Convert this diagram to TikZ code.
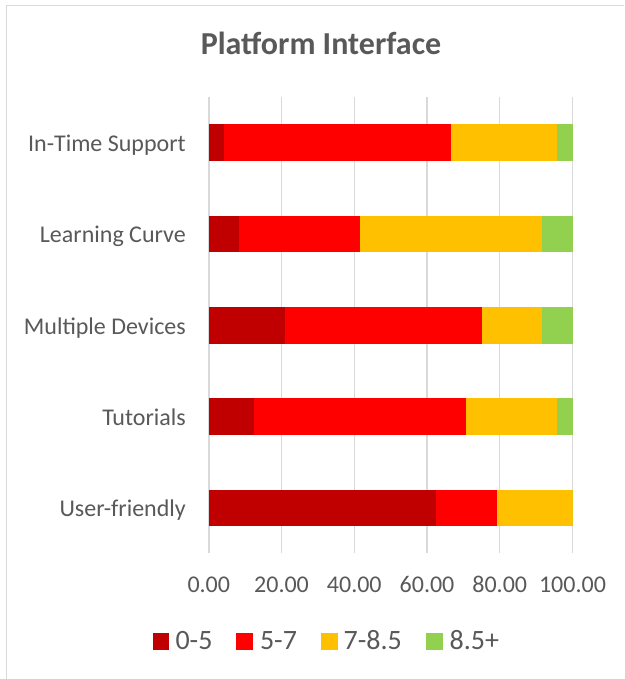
\documentclass[tikz,border=0pt]{standalone}
\usepackage{fontspec}
\setmainfont{Carlito}
\definecolor{txtgray}{HTML}{595959}
\definecolor{gridgray}{HTML}{D9D9D9}
\definecolor{cA}{HTML}{C00000}
\definecolor{cB}{HTML}{FF0000}
\definecolor{cC}{HTML}{FFC000}
\definecolor{cD}{HTML}{92D050}
\begin{document}
\begin{tikzpicture}[x=1pt,y=-1pt,
  titletext/.style={text=txtgray,inner sep=0pt,font=\fontsize{32}{36}\selectfont\bfseries},
  cattext/.style={text=txtgray,inner sep=0pt,anchor=base east,font=\fontsize{24}{28}\selectfont},
  ticktext/.style={text=txtgray,inner sep=0pt,anchor=base,font=\fontsize{24}{28}\selectfont},
  legtext/.style={text=txtgray,inner sep=0pt,anchor=base west,font=\fontsize{28}{32}\selectfont},
  gridline/.style={draw=gridgray,line width=1.4pt},
  frameline/.style={draw=gridgray,line width=1.5pt}]
\useasboundingbox (0,0) rectangle (624,679);
\fill[white] (0,0) rectangle (624,679);
\begin{scope}
\clip (0,0) rectangle (624,679);
\draw[frameline] (6.5,5.5) rectangle (640,700);
\end{scope}
% scale helpers
\def\xz{208.8}
\def\xs{3.637}
% gridlines
\foreach \v/\n in {0/g0,20/g1,40/g2,60/g3,80/g4,100/g5}{
  \coordinate (\n t) at ({\xz+\v*\xs},97.3);
  \coordinate (\n b) at ({\xz+\v*\xs},553.3);
  \draw[gridline] (\n t) -- (\n b);
}
% bars: name / center y / cum1 / cum2 / cum3
\foreach \lab/\yc/\a/\b/\c [count=\i] in {
  In-Time Support/142.8/4.1667/66.6667/95.8333,
  Learning Curve/234.1/8.3333/41.6667/91.6667,
  Multiple Devices/325.4/20.8333/75/91.6667,
  Tutorials/416.7/12.5/70.8333/95.8333,
  User-friendly/508/62.5/79.1667/100}{
  \fill[cA] ({\xz+0.6},\yc-18.3) rectangle ({\xz+\a*\xs},\yc+18.3);
  \fill[cB] ({\xz+\a*\xs},\yc-18.3) rectangle ({\xz+\b*\xs},\yc+18.3);
  \fill[cC] ({\xz+\b*\xs},\yc-18.3) rectangle ({\xz+\c*\xs},\yc+18.3);
  \fill[cD] ({\xz+\c*\xs},\yc-18.3) rectangle ({\xz+100*\xs},\yc+18.3);
  \node[cattext] (cat\i) at (186,\yc+8.6) {\lab};
}
% tick labels
\node[ticktext] (t0) at (g0b |- 0,592.3) {0.00};
\node[ticktext] (t1) at (g1b |- 0,592.3) {20.00};
\node[ticktext] (t2) at (g2b |- 0,592.3) {40.00};
\node[ticktext] (t3) at (g3b |- 0,592.3) {60.00};
\node[ticktext] (t4) at (g4b |- 0,592.3) {80.00};
\node[ticktext] (t5) at (g5b |- 0,592.3) {100.00};
% title
\node[titletext,anchor=base] (title) at (321,54.3) {Platform Interface};
% legend
\fill[cA] (152.6,633.3) rectangle (169.3,649.6);
\fill[cB] (236.3,633.3) rectangle (253,649.6);
\fill[cC] (320.7,633.3) rectangle (337.5,649.6);
\fill[cD] (426.3,633.3) rectangle (443,649.6);
\node[legtext] (l1) at (175.3,649.6) {0-5};
\node[legtext] (l2) at (259.8,649.6) {5-7};
\node[legtext] (l3) at (343.4,649.6) {7-8.5};
\node[legtext] (l4) at (449.4,649.6) {8.5+};
\end{tikzpicture}
\end{document}
